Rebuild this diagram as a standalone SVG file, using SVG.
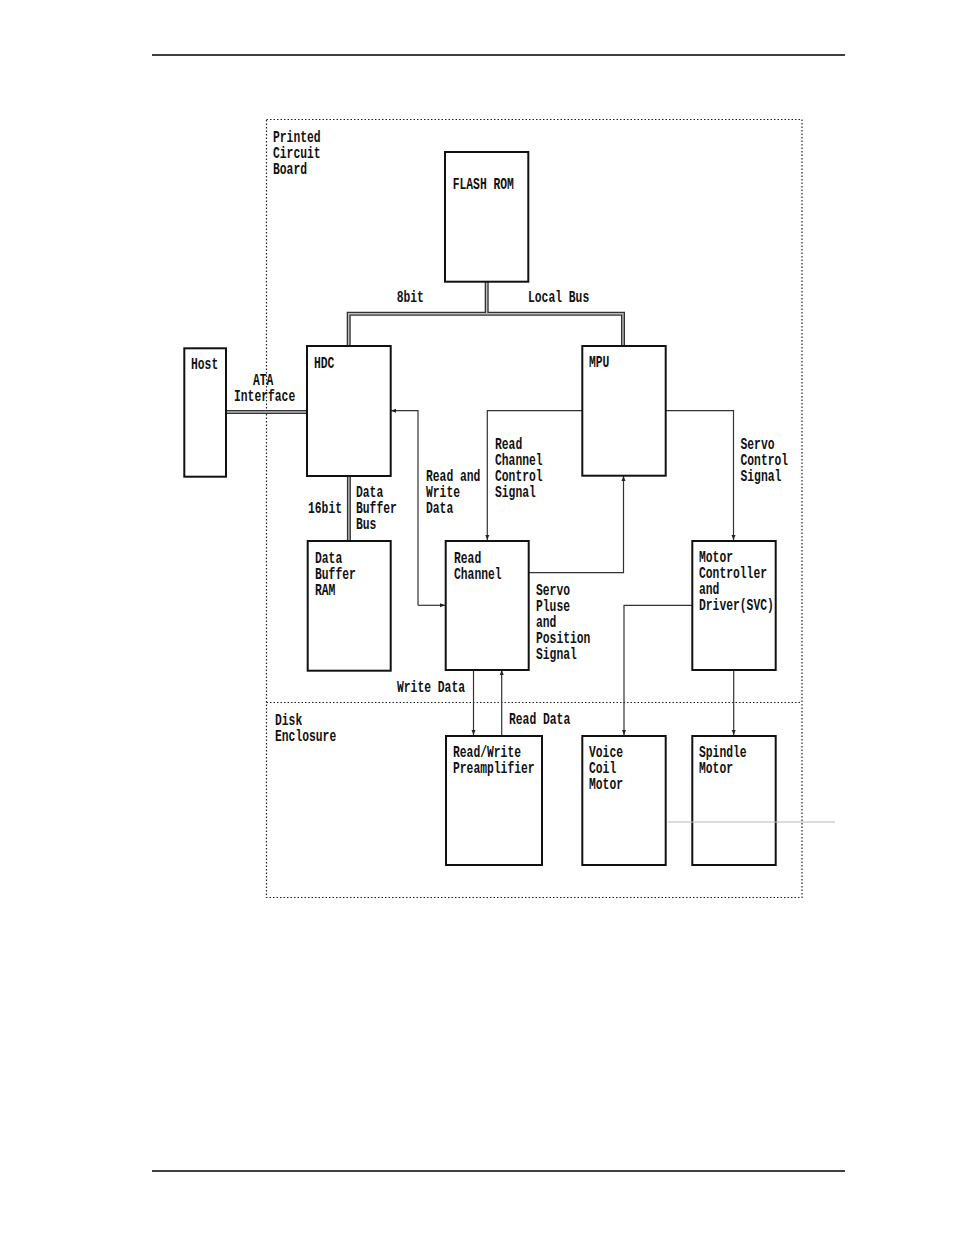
<svg xmlns="http://www.w3.org/2000/svg" width="954" height="1235" viewBox="0 0 954 1235">
<style>
text{font-family:"Liberation Mono","DejaVu Sans Mono",monospace;font-size:16px;font-weight:bold;fill:#111;}
.box{fill:#fff;stroke:#111;stroke-width:2;}
.dot{fill:none;stroke:#222;stroke-width:1.2;stroke-dasharray:1.5 2;}
.ln{fill:none;stroke:#333;stroke-width:1.2;}
.busO{fill:none;stroke:#333;stroke-width:4;}
.busI{fill:none;stroke:#bbb;stroke-width:1.4;}
.rule{stroke:#000;stroke-width:1.5;}
</style>
<defs>
<marker id="ah" markerWidth="6" markerHeight="6" refX="5" refY="3" orient="auto" markerUnits="userSpaceOnUse">
<path d="M0,1 L5,3 L0,5 Z" fill="#222"/>
</marker>
</defs>
<rect width="954" height="1235" fill="#fff"/>
<line class="rule" x1="152" y1="55" x2="845" y2="55"/>
<line class="rule" x1="152" y1="1171" x2="845" y2="1171"/>

<g id="regions">
<rect class="dot" x="266.5" y="119.5" width="535.5" height="778"/>
<line class="dot" x1="266.5" y1="702.5" x2="802" y2="702.5"/>
<text x="273" y="142" textLength="47.6" lengthAdjust="spacingAndGlyphs">Printed</text>
<text x="273" y="158" textLength="47.6" lengthAdjust="spacingAndGlyphs">Circuit</text>
<text x="273" y="174" textLength="34" lengthAdjust="spacingAndGlyphs">Board</text>
<text x="275" y="725" textLength="27.2" lengthAdjust="spacingAndGlyphs">Disk</text>
<text x="275" y="741" textLength="61.2" lengthAdjust="spacingAndGlyphs">Enclosure</text>
</g>

<g id="connectors">
<path class="busO" d="M486.7,282 V313.7 M348.7,347 V313.7 H623 V346"/>
<path class="busI" d="M486.7,282 V313.7 M348.7,347 V313.7 H623 V346"/>
<path class="busO" d="M226,412 H307"/>
<path class="busI" d="M226,412 H307"/>
<path class="busO" d="M348.9,476 V541"/>
<path class="busI" d="M348.9,476 V541"/>
<path class="ln" d="M418,605.3 V410.7 H391" marker-end="url(#ah)"/>
<path class="ln" d="M418,605.3 H445" marker-end="url(#ah)"/>
<path class="ln" d="M582,410.7 H487.3 V540" marker-end="url(#ah)"/>
<path class="ln" d="M528.5,572.7 H623.5 V476" marker-end="url(#ah)"/>
<path class="ln" d="M665.5,410.7 H733.5 V540" marker-end="url(#ah)"/>
<path class="ln" d="M692,605.3 H624 V735" marker-end="url(#ah)"/>
<path class="ln" d="M733.7,670 V735" marker-end="url(#ah)"/>
<path class="ln" d="M473.5,670 V735" marker-end="url(#ah)"/>
<path class="ln" d="M501.7,736 V670" marker-end="url(#ah)"/>
<text x="396.7" y="302" textLength="27.2" lengthAdjust="spacingAndGlyphs">8bit</text>
<text x="528" y="302" textLength="61.2" lengthAdjust="spacingAndGlyphs">Local Bus</text>
<text x="253" y="385" textLength="20.4" lengthAdjust="spacingAndGlyphs">ATA</text>
<text x="234" y="401" textLength="61.2" lengthAdjust="spacingAndGlyphs">Interface</text>
<text x="308" y="513" textLength="34" lengthAdjust="spacingAndGlyphs">16bit</text>
<text x="356" y="497" textLength="27.2" lengthAdjust="spacingAndGlyphs">Data</text>
<text x="356" y="513" textLength="40.8" lengthAdjust="spacingAndGlyphs">Buffer</text>
<text x="356" y="529" textLength="20.4" lengthAdjust="spacingAndGlyphs">Bus</text>
<text x="426" y="481" textLength="54.4" lengthAdjust="spacingAndGlyphs">Read and</text>
<text x="426" y="497" textLength="34" lengthAdjust="spacingAndGlyphs">Write</text>
<text x="426" y="513" textLength="27.2" lengthAdjust="spacingAndGlyphs">Data</text>
<text x="495" y="449" textLength="27.2" lengthAdjust="spacingAndGlyphs">Read</text>
<text x="495" y="465" textLength="47.6" lengthAdjust="spacingAndGlyphs">Channel</text>
<text x="495" y="481" textLength="47.6" lengthAdjust="spacingAndGlyphs">Control</text>
<text x="495" y="497" textLength="40.8" lengthAdjust="spacingAndGlyphs">Signal</text>
<text x="740.5" y="449" textLength="34" lengthAdjust="spacingAndGlyphs">Servo</text>
<text x="740.5" y="465" textLength="47.6" lengthAdjust="spacingAndGlyphs">Control</text>
<text x="740.5" y="481" textLength="40.8" lengthAdjust="spacingAndGlyphs">Signal</text>
<text x="536" y="595" textLength="34" lengthAdjust="spacingAndGlyphs">Servo</text>
<text x="536" y="611" textLength="34" lengthAdjust="spacingAndGlyphs">Pluse</text>
<text x="536" y="627" textLength="20.4" lengthAdjust="spacingAndGlyphs">and</text>
<text x="536" y="643" textLength="54.4" lengthAdjust="spacingAndGlyphs">Position</text>
<text x="536" y="659" textLength="40.8" lengthAdjust="spacingAndGlyphs">Signal</text>
<text x="397" y="692" textLength="68" lengthAdjust="spacingAndGlyphs">Write Data</text>
<text x="509" y="724" textLength="61.2" lengthAdjust="spacingAndGlyphs">Read Data</text>
</g>

<g id="flashrom">
<rect class="box" x="445" y="152" width="83.3" height="129.7"/>
<text x="452.7" y="189" textLength="61.2" lengthAdjust="spacingAndGlyphs">FLASH ROM</text>
</g>
<g id="host">
<rect class="box" x="184.3" y="348.3" width="41.7" height="128.4"/>
<text x="191" y="369" textLength="27.2" lengthAdjust="spacingAndGlyphs">Host</text>
</g>
<g id="hdc">
<rect class="box" x="307" y="346" width="83.7" height="130"/>
<text x="314" y="368" textLength="20.4" lengthAdjust="spacingAndGlyphs">HDC</text>
</g>
<g id="mpu">
<rect class="box" x="582.3" y="346" width="83.4" height="129.7"/>
<text x="589" y="367" textLength="20.4" lengthAdjust="spacingAndGlyphs">MPU</text>
</g>
<g id="databufferram">
<rect class="box" x="307.7" y="541" width="83" height="129.7"/>
<text x="315" y="563" textLength="27.2" lengthAdjust="spacingAndGlyphs">Data</text>
<text x="315" y="579" textLength="40.8" lengthAdjust="spacingAndGlyphs">Buffer</text>
<text x="315" y="595" textLength="20.4" lengthAdjust="spacingAndGlyphs">RAM</text>
</g>
<g id="readchannel">
<rect class="box" x="445.7" y="541" width="83" height="129"/>
<text x="454" y="563" textLength="27.2" lengthAdjust="spacingAndGlyphs">Read</text>
<text x="454" y="579" textLength="47.6" lengthAdjust="spacingAndGlyphs">Channel</text>
</g>
<g id="motorcontroller">
<rect class="box" x="692.3" y="541" width="83.4" height="129"/>
<text x="699" y="562" textLength="34" lengthAdjust="spacingAndGlyphs">Motor</text>
<text x="699" y="578" textLength="68" lengthAdjust="spacingAndGlyphs">Controller</text>
<text x="699" y="594" textLength="20.4" lengthAdjust="spacingAndGlyphs">and</text>
<text x="699" y="610" textLength="74.8" lengthAdjust="spacingAndGlyphs">Driver(SVC)</text>
</g>
<g id="preamp">
<rect class="box" x="446" y="736" width="96" height="129"/>
<text x="453" y="757" textLength="68" lengthAdjust="spacingAndGlyphs">Read/Write</text>
<text x="453" y="773" textLength="81.6" lengthAdjust="spacingAndGlyphs">Preamplifier</text>
</g>
<g id="voicecoilmotor">
<rect class="box" x="582.3" y="736" width="83.4" height="129"/>
<text x="589" y="757" textLength="34" lengthAdjust="spacingAndGlyphs">Voice</text>
<text x="589" y="773" textLength="27.2" lengthAdjust="spacingAndGlyphs">Coil</text>
<text x="589" y="789" textLength="34" lengthAdjust="spacingAndGlyphs">Motor</text>
</g>
<g id="spindlemotor">
<rect class="box" x="692.3" y="736" width="83.4" height="129"/>
<text x="699" y="757" textLength="47.6" lengthAdjust="spacingAndGlyphs">Spindle</text>
<text x="699" y="773" textLength="34" lengthAdjust="spacingAndGlyphs">Motor</text>
</g>
<line x1="668" y1="822" x2="835" y2="822" stroke="#bbb" stroke-width="1"/>
</svg>
